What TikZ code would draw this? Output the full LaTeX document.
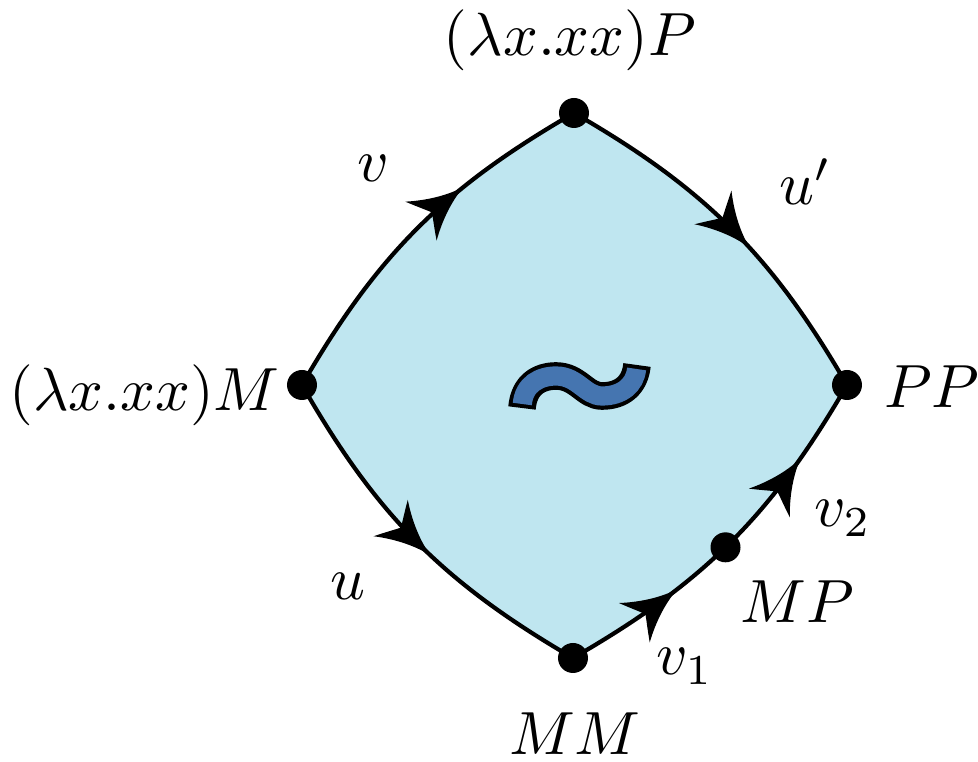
\documentclass[tikz,border=0pt]{standalone}
\usetikzlibrary{decorations.markings}
\definecolor{paneblue}{RGB}{191,230,240}
\definecolor{tildeblue}{RGB}{69,117,176}
\newcommand{\arrowheadfill}{\fill[black] (0,0) .. controls (-17,3) and (-37,12) .. (-55,25)
      .. controls (-48,12) and (-43,4) .. (-41,0)
      .. controls (-43,-4) and (-48,-12) .. (-55,-25)
      .. controls (-37,-12) and (-17,-3) .. (0,0) -- cycle;}
\tikzset{
  edge/.style={line width=1.05pt, draw=black},
  dot/.style={circle, fill=black, inner sep=0pt, minimum size=7.5pt},
  lbl/.style={inner sep=0pt, scale=1.525},
  arrowat/.style={postaction={decorate, decoration={markings,
      mark=at position #1 with {\arrowheadfill}}}}
}
\begin{document}
\begin{tikzpicture}[x=0.25pt,y=0.25pt]
\useasboundingbox (0,0) rectangle (978,762);
\coordinate (L) at (302,377);
\coordinate (T) at (574,649);
\coordinate (R) at (847,377);
\coordinate (B) at (573,104);
\fill[paneblue] (L) to[bend left=15] (T) to[bend left=15] (R) to[bend left=15] (B) to[bend left=15] (L) -- cycle;
% tilde
\draw[line width=6.9pt, black, line join=round] (522,354) .. controls (524,378) and (540,386) .. (556,386)
   .. controls (578,386) and (585,366) .. (602,366) .. controls (622,366) and (635,377) .. (637,397);
\draw[line width=4.8pt, tildeblue, shorten <=1pt, shorten >=1pt] (522,354) .. controls (524,378) and (540,386) .. (556,386)
   .. controls (578,386) and (585,366) .. (602,366) .. controls (622,366) and (635,377) .. (637,397);
% edges
\draw[edge, arrowat=0.66] (L) to[bend left=15] (T);
\draw[edge, arrowat=0.57] (T) to[bend left=15] (R);
\draw[edge, arrowat=0.55] (L) to[bend right=15] (B);
\draw[edge, arrowat=0.32, arrowat=0.78] (B) to[bend right=15] node[dot, pos=0.48] (nMP) {} (R);
% vertices
\node[dot] (nL) at (L) {};
\node[dot] (nT) at (T) {};
\node[dot] (nR) at (R) {};
\node[dot] (nB) at (B) {};
% labels
\node[lbl, anchor=base] (lT) at (570,706) {$(\lambda x.xx)P$};
\node[lbl, anchor=base] (lL) at (144.5,351) {$(\lambda x.xx)M$};
\node[lbl, anchor=base] (lR) at (932,354) {$PP$};
\node[lbl, anchor=base] (lB) at (575,7) {$MM$};
\node[lbl, anchor=base] (lv) at (373,580) {$v$};
\node[lbl, anchor=base west] (lup) at (778,557) {$u'$};
\node[lbl, anchor=base] (lu) at (348,162) {$u$};
\node[lbl, anchor=base west] (lvone) at (655,87) {$v_1$};
\node[lbl, anchor=base west] (lvtwo) at (813,235) {$v_2$};
\node[lbl, anchor=base] (lMP) at (797,139) {$MP$};
\end{tikzpicture}
\end{document}
